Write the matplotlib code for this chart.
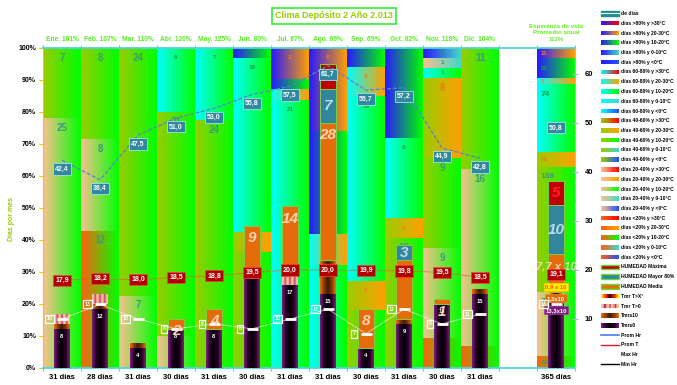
import numpy as np
import matplotlib.pyplot as plt
from matplotlib.colors import to_rgb
from matplotlib.patches import Rectangle, Patch
from matplotlib.lines import Line2D
from matplotlib.legend_handler import HandlerBase, HandlerTuple

plt.rcParams['font.family'] = ['Liberation Sans', 'DejaVu Sans']

meses = ["Ene. 101%", "Feb. 107%", "Mar. 110%", "Abr. 120%", "May. 125%", "Jun. 80%",
         "Jul. 87%", "Ago. 69%", "Sep. 69%", "Oct. 82%", "Nov. 118%", "Dic. 104%"]
dias_mes = ["31 días", "28 días", "31 días", "30 días", "31 días", "30 días",
            "31 días", "31 días", "30 días", "31 días", "30 días", "31 días"]
anual_titulo = "Esperanza de vida\nPromedio anual\n111%"
anual_dias = "365 días"

# rangos de humedad y temperatura
hum_rangos = [">80%", "60-80%", "40-60%", "20-40%", "<20%"]
temp_rangos = [">30ºC", "20-30ºC", "10-20ºC", "0-10ºC", "<0ºC"]
hum_color = ['#2a18ff', '#00ffff', '#99cc00', '#fac090', '#ff6010']
temp_color = ['#ff0000', '#ffa000', '#00ff00', '#40d8c8', '#2050ff']

# bandas (humedad, temperatura, días) de abajo hacia arriba
ene = [(3, 2, 25), (2, 2, 7)]
feb = [(4, 2, 12), (3, 2, 8), (2, 2, 8)]
mar = [(3, 2, 7), (2, 2, 24)]
abr = [(3, 2, 3), (2, 2, 21), (1, 2, 6)]
may = [(2, 2, 24), (1, 2, 7)]
jun = [(2, 2, 12), (2, 1, 2), (1, 2, 18), (0, 2, 1)]
jul = [(1, 2, 5), (1, 2, 21), (1, 1, 1), (0, 2, 1), (0, 1, 3)]
ago = [(1, 2, 10), (1, 1, 3), (0, 2, 10), (0, 1, 8)]
sep = [(2, 2, 6), (2, 1, 3), (1, 2, 19), (1, 1, 3), (0, 2, 2)]
oct_ = [(2, 2, 13), (2, 1, 2), (1, 2, 8), (0, 2, 9)]
nov = [(4, 2, 3), (3, 2, 9), (2, 2, 9), (2, 1, 8), (1, 2, 1), (3, 3, 1), (0, 3, 1)]
dic = [(4, 2, 2), (3, 2, 16), (2, 2, 11)]
anual = [(4, 2, 13), (3, 2, 70), (2, 2, 138), (2, 1, 16), (1, 2, 74), (1, 1, 7),
         (0, 2, 22), (0, 1, 11)]
columnas = [ene, feb, mar, abr, may, jun, jul, ago, sep, oct_, nov, dic]

# barras de temperatura (días)
tmr_le0 = [8, 12, 4, 8, 8, 20, 17, 15, 4, 9, 13, 15]
tmr_le10 = [1, 1, 1, 0, 0, 0, 0, 7, 0, 1, 0, 1]
tmr_gt0 = [2, 2, 0, 0, 0, 0, 2, 0, 0, 0, 0, 0]
tmr_gtx = [0, 0, 0, 0, 0, 0, 0, 0, 0, 0, 0, 0]
# barras de humedad (días)
hum_min = [0, 0, 0, 2, 4, 9, 14, 28, 8, 12, 1, 0]
hum_mayor = [0, 0, 0, 0, 0, 0, 0, 7, 0, 3, 0, 0]
hum_max = [0, 0, 0, 0, 0, 0, 0, 5, 0, 0, 0, 0]
# anual (x10 días)
anual_tmr = [13.3, 1.3, 0, 0.9]
anual_hum = [7.7, 10, 5]

prom_hr = [42.4, 38.4, 47.5, 51.0, 53.0, 55.8, 57.5, 61.7, 56.7, 57.2, 44.9, 42.8]
prom_t = [17.9, 18.2, 18.0, 18.5, 18.8, 19.5, 20.0, 20.0, 19.9, 19.8, 19.5, 18.5]
max_hr = [10, 13, 10, 8, 9, 8, 10, 12, 7, 12, 9, 11]
anual_hr, anual_t, anual_max = 50.8, 19.1, 13

grad_purpura = ['#7b1f7b', '#2a002a', '#000000', '#2a002a', '#7b1f7b']
grad_marron = ['#f07010', '#8a3a00', '#3a1a00', '#8a3a00', '#f07010']
grad_rayas = ['#fac090', '#fac090', '#c03080', '#fac090', '#fac090', '#c03080',
              '#fac090', '#fac090', '#c03080', '#fac090', '#fac090']
grad_amarillo = ['#ffff00', '#ff2000', '#200000', '#ff2000', '#ffff00']
c_hmin, c_hmayor, c_hmax = '#e46c0a', '#31859c', '#c00000'


def grad(stops, n=64):
    cols = np.array([to_rgb(c) for c in stops])
    pos = np.linspace(0, 1, len(cols))
    t = np.linspace(0, 1, n)
    arr = np.stack([np.interp(t, pos, cols[:, k]) for k in range(3)], axis=-1)
    return arr[np.newaxis, :, :]


class Grad:
    def __init__(self, stops):
        self.stops = stops


class HandlerGrad(HandlerBase):
    def create_artists(self, legend, orig, xd, yd, w, h, fontsize, trans):
        n = 16
        cols = grad(orig.stops, n)[0]
        arts = []
        for k in range(n):
            arts.append(Rectangle((-xd + w * k / n, -yd), w / n * 1.1, h,
                                  facecolor=cols[k], edgecolor='none', transform=trans))
        return arts


fig = plt.figure(figsize=(6.77, 3.85), dpi=100)
ax = fig.add_axes([43 / 677, 17 / 385, 532 / 677, 320 / 385])
ax2 = ax.twinx()

# bandas de fondo
for i, bandas in enumerate(columnas + [anual]):
    x0 = i if i < 12 else 13
    tot = sum(b[2] for b in bandas)
    y0 = 0
    for h, t, d in bandas:
        pct = d / tot * 100
        ax.imshow(grad([hum_color[h], temp_color[t]]), extent=[x0, x0 + 1, y0, y0 + pct],
                  aspect='auto', interpolation='bilinear', origin='lower')
        if t in (0, 1):
            col = '#f07a20'
        elif h in (0, 1):
            col = '#10a040'
        else:
            col = '#3c9a78'
        fs = 7 if (h >= 2 and pct >= 12) else 4.5
        if i == 12:
            fs = 6 if d > 50 else 4.5
        ly = y0 + pct - 3 if pct >= 8 else y0 + pct / 2
        if i < 12:
            ax.text(x0 + 0.5, ly, str(d), ha='center', va='center', fontsize=fs,
                    color=col, fontweight='bold')
        else:
            ax.text(x0 + 0.1, ly, str(d), ha='left', va='center', fontsize=fs,
                    color=col, fontweight='bold')
        y0 += pct

ax.set_xlim(0, 14)
ax.set_ylim(0, 100)
ax.set_yticks(range(0, 101, 10))
ax.set_yticklabels([f"{v}%" for v in range(0, 101, 10)], fontsize=5, fontweight='bold')
ax.set_xticks(range(15))
ax.tick_params(axis='x', top=True, bottom=True, length=2, color='#4fd6d6',
               labelbottom=False)
ax.tick_params(axis='y', length=3, color='#ffc000', pad=2)
for s in ['top', 'bottom']:
    ax.spines[s].set_color('#4fd6d6')
    ax.spines[s].set_linewidth(1.3)
ax.spines['left'].set_color('#ffc000')
ax.spines['right'].set_visible(False)

for i in range(12):
    ax.text(i + 0.5, 102.6, meses[i], ha='center', va='center', fontsize=4.8,
            color='#55ee22', fontweight='bold', clip_on=False)
    ax.text(i + 0.5, -2.9, dias_mes[i], ha='center', va='center', fontsize=5.5,
            color='black', fontweight='bold', clip_on=False)
ax.text(13.5, -2.9, anual_dias, ha='center', va='center', fontsize=5.5,
        color='black', fontweight='bold', clip_on=False)

# barras en días
ax2.set_ylim(0, 65.3)
ax2.set_xlim(0, 14)
xs = [i + 0.5 for i in range(12)]
w2 = 0.2
for i, xc in enumerate(xs):
    base = 0
    for val, stops in zip([tmr_le0[i], tmr_le10[i], tmr_gt0[i], tmr_gtx[i]],
                          [grad_purpura, grad_marron, grad_rayas, grad_amarillo]):
        if val > 0:
            ax2.imshow(grad(stops), extent=[xc - w2, xc + w2, base, base + val],
                       aspect='auto', interpolation='bilinear', origin='lower')
        base += val
    ax2.text(xc, tmr_le0[i] - 1.5, str(tmr_le0[i]), ha='center', va='center',
             fontsize=4.2, color='white', fontweight='bold')
    for val, c, tc in zip([hum_min[i], hum_mayor[i], hum_max[i]],
                          [c_hmin, c_hmayor, c_hmax], ['#fbd4b4', '#b7dee8', '#ff2020']):
        if val > 0:
            ax2.bar(xc, val, width=2 * w2, bottom=base, color=c, edgecolor='#7fcf3f',
                    linewidth=0.7)
            ly = base + val - 2.5 if c == c_hmin else base + val / 2
            ax2.text(xc, ly, str(val), ha='center', va='center', fontsize=11,
                     color=tc, fontstyle='italic', fontweight='bold')
        base += val

# columna anual
xa = 13.5
base = 0
for val, stops in zip(anual_tmr, [grad_purpura, grad_marron, grad_rayas, grad_amarillo]):
    if val > 0:
        ax2.imshow(grad(stops), extent=[xa - w2, xa + w2, base, base + val],
                   aspect='auto', interpolation='bilinear', origin='lower')
    base += val
for val, c, tc in zip(anual_hum, [c_hmin, c_hmayor, c_hmax],
                      ['#fbd4b4', '#b7dee8', '#ff2020']):
    ax2.bar(xa, val, width=2 * w2, bottom=base, color=c, edgecolor='#7fcf3f', linewidth=0.7)
    if c == c_hmin:
        ax2.text(xa, base + val - 2.5, "7,7 x 10", ha='center', va='center', fontsize=8,
                 color='#fbd4b4', fontstyle='italic', fontweight='bold')
    else:
        ax2.text(xa, base + val / 2, f"{val:g}", ha='center', va='center', fontsize=11,
                 color=tc, fontstyle='italic', fontweight='bold')
    base += val
ax2.text(xa, anual_tmr[0] - 1.5, "13,3x10", ha='center', va='center', fontsize=4.2,
         color='white', fontweight='bold',
         bbox=dict(boxstyle='square,pad=0.25', fc='#7b1f7b', ec='#a040a0', lw=0.5))
ax2.text(xa, anual_tmr[0] + anual_tmr[1] / 2 + 0.3, "1,3x10", ha='center', va='center',
         fontsize=4.2, color='white', fontweight='bold',
         bbox=dict(boxstyle='square,pad=0.25', fc='#e46c0a', ec='#f09040', lw=0.5))
ax2.text(xa, 16.6, "0,9 x 10", ha='center', va='center', fontsize=4.2,
         color='#ff5000', fontweight='bold',
         bbox=dict(boxstyle='square,pad=0.25', fc='#ffee00', ec='#ffcc00', lw=0.5))

# líneas y etiquetas
ax2.plot(xs, prom_hr, color='#5b7fcf', lw=0.9, ls=(0, (3, 1.5)))
ax2.plot(xs, prom_t, color='#e06040', lw=0.6, alpha=0.8)
ax2.plot(xs, max_hr, color='#f0fff0', lw=0.6, alpha=0.7)

box_hr = dict(boxstyle='square,pad=0.3', fc='#2f8aa0', ec='#a0e0f0', lw=0.6)
box_t = dict(boxstyle='square,pad=0.3', fc='#b00000', ec='#ff4040', lw=0.5)
box_w = dict(boxstyle='square,pad=0.3', fc='none', ec='white', lw=0.9)
for xc, hr, t, m in zip(xs + [xa], prom_hr + [anual_hr], prom_t + [anual_t],
                        max_hr + [anual_max]):
    ax2.text(xc, hr - 1.8, f"{hr:.1f}".replace('.', ','), ha='center', va='center',
             fontsize=5, color='white', fontweight='bold', bbox=box_hr)
    ax2.text(xc, t, f"{t:.1f}".replace('.', ','), ha='center', va='center',
             fontsize=5, color='white', fontweight='bold', bbox=box_t)
    ax2.plot([xc - 0.13, xc + 0.15], [m, m], color='white', lw=2, solid_capstyle='butt')
    ax2.text(xc - 0.32, m, str(m), ha='center', va='center', fontsize=3.8,
             color='white', fontweight='bold', bbox=box_w)

ax2.set_yticks(range(10, 61, 10))
ax2.set_yticklabels([str(v) for v in range(10, 61, 10)], fontsize=5.5, fontweight='bold')
ax2.tick_params(axis='y', length=4, direction='inout', color='#c0a0f0', pad=5)
for s in ['top', 'bottom', 'left']:
    ax2.spines[s].set_visible(False)
ax2.spines['right'].set_color('#c8a8f0')

# títulos
fig.text(334 / 677, 1 - 16 / 385, "Clima Depósito 2 Año 2.013", ha='center', va='center',
         fontsize=6.5, color='#99cc00', fontweight='bold',
         bbox=dict(boxstyle='square,pad=0.35', fc='white', ec='#33ee33', lw=1.2))
fig.text(556 / 677, 1 - 33 / 385, anual_titulo, ha='center', va='center', fontsize=4.5,
         color='#66ee22', fontweight='bold', linespacing=1.4)
fig.text(12 / 677, 0.43, "Días por mes", rotation=90, ha='center', va='center',
         fontsize=5, color='#99cc00', fontweight='bold')

# leyenda
handles = [(Patch(fc='#1f8f8f', ec='#1f8f8f'), Line2D([], [], color='white', lw=0.8))]
labels = ["de días"]
for h in range(5):
    for t in range(5):
        handles.append(Grad([hum_color[h], temp_color[t]]))
        labels.append(f"días {hum_rangos[h]} y {temp_rangos[t]}")
handles += [Patch(fc=c_hmax, ec='#66dd33', lw=1), Patch(fc=c_hmayor, ec='#66dd33', lw=1),
            Patch(fc=c_hmin, ec='#66dd33', lw=1)]
labels += ["HUMEDAD Máxima", "HUMEDAD Mayor 80%", "HUMEDAD Media"]
handles += [Grad(grad_amarillo), Grad(grad_rayas), Grad(grad_marron), Grad(grad_purpura)]
labels += ["Tmr T>X°", "Tmr T>0", "Tmr≤10", "Tmr≤0"]
handles += [Line2D([], [], color='#4a7cf0', lw=1.2), Line2D([], [], color='#e02020', lw=1),
            Line2D([], [], color='white', lw=1), Line2D([], [], color='black', lw=1)]
labels += ["Prom Hr", "Prom T", "Max Hr", "Min Hr"]

fig.legend(handles, labels, loc='upper left', bbox_to_anchor=(601 / 677, 1 - 11 / 385),
           frameon=False, prop=dict(size=3.6, weight='bold'), handlelength=3.6,
           handleheight=1.0, labelspacing=0.95, handletextpad=0.4, borderpad=0,
           borderaxespad=0, handler_map={Grad: HandlerGrad(), tuple: HandlerTuple()})

fig.savefig('out.png', dpi=100)
